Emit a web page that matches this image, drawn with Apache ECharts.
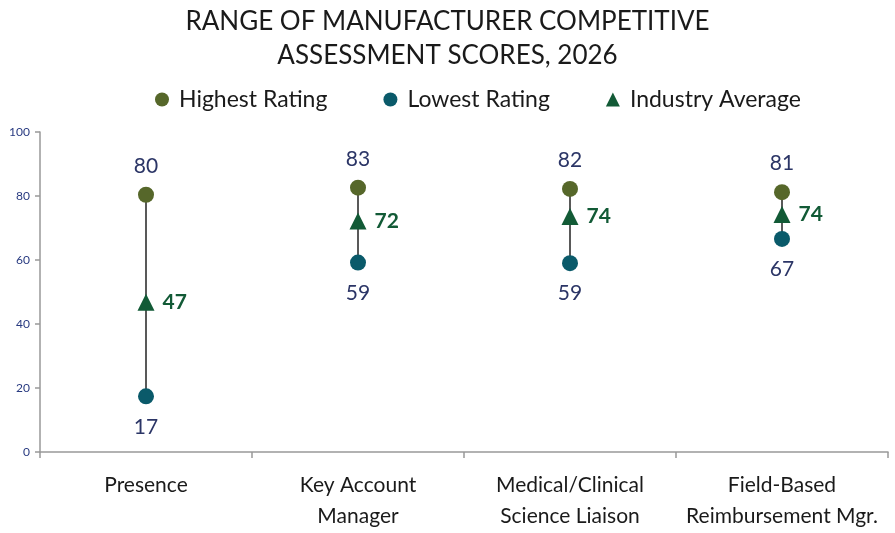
<!DOCTYPE html>
<html><head><meta charset="utf-8">
<script src="https://cdn.jsdelivr.net/npm/echarts@6/dist/echarts.min.js"></script>
<style>html,body{margin:0;padding:0;background:#fff}#c{width:895px;height:533px}</style>
</head><body><div id="c"></div>
<script>
const categories = ['Presence', 'Key Account\nManager', 'Medical/Clinical\nScience Liaison', 'Field-Based\nReimbursement Mgr.'];
const highest = [80.4, 82.6, 82.2, 81.2];
const lowest = [17.4, 59.2, 59.0, 66.6];
const average = [46.8, 72.2, 73.6, 74.2];
const yTicks = [0, 20, 40, 60, 80, 100];

const FONT = 'Lato';
const chart = echarts.init(document.getElementById('c'));
chart.setOption({
  animation: false,
  textStyle: { fontFamily: FONT },
  title: {
    text: 'RANGE OF MANUFACTURER COMPETITIVE\nASSESSMENT SCORES, 2026',
    left: 'center', top: 0,
    textStyle: { fontFamily: FONT, fontSize: 26, fontWeight: 'normal', color: '#1a1a1a', lineHeight: 34 }
  },
  legend: {
    top: 83, left: 150, itemGap: 56, itemWidth: 14, itemHeight: 14,
    textStyle: { fontFamily: FONT, fontSize: 23, color: '#1a1a1a', padding: [0, 0, 0, 5] },
    data: [
      { name: 'Highest Rating', icon: 'circle' },
      { name: 'Lowest Rating', icon: 'circle' },
      { name: 'Industry Average', icon: 'triangle' }
    ]
  },
  grid: { left: 40, right: 7, top: 132, bottom: 81 },
  xAxis: {
    type: 'category', data: categories,
    axisLine: { lineStyle: { color: '#999', width: 1.5 } },
    axisTick: { show: true, interval: 0, length: 6, lineStyle: { color: '#999', width: 1.5 } },
    axisLabel: { interval: 0, fontFamily: FONT, fontSize: 21, color: '#1a1a1a', margin: 18, lineHeight: 31 }
  },
  yAxis: {
    type: 'value', min: 0, max: 100, interval: 20,
    axisLine: { show: true, lineStyle: { color: '#999', width: 1.5 } },
    axisTick: { show: true, length: 5, lineStyle: { color: '#999', width: 1.5 } },
    splitLine: { show: false },
    axisLabel: { fontFamily: FONT, fontSize: 12, color: '#283a80', margin: 10,
      formatter: v => yTicks.includes(v) ? String(v) : '' }
  },
  series: [
    {
      type: 'custom', name: 'range', silent: true, z: 1,
      data: categories.map((c, i) => [i, lowest[i], highest[i]]),
      renderItem: (params, api) => {
        const a = api.coord([api.value(0), api.value(1)]);
        const b = api.coord([api.value(0), api.value(2)]);
        return { type: 'line', shape: { x1: a[0], y1: a[1], x2: b[0], y2: b[1] },
          style: { stroke: '#222', lineWidth: 1.5 } };
      }
    },
    {
      name: 'Highest Rating', type: 'scatter', data: highest, symbol: 'circle', symbolSize: 16, z: 3,
      itemStyle: { color: '#56672a', opacity: 1 },
      label: { show: true, position: 'top', distance: 10, fontFamily: FONT, fontSize: 21, color: '#2b3566',
        formatter: p => Math.round(p.value) }
    },
    {
      name: 'Lowest Rating', type: 'scatter', data: lowest, symbol: 'circle', symbolSize: 16, z: 3,
      itemStyle: { color: '#0a5a6a', opacity: 1 },
      label: { show: true, position: 'bottom', distance: 12, fontFamily: FONT, fontSize: 21, color: '#2b3566',
        formatter: p => Math.round(p.value) }
    },
    {
      name: 'Industry Average', type: 'scatter', data: average, symbol: 'triangle', symbolSize: 17, z: 4,
      itemStyle: { color: '#125a36', opacity: 1 },
      label: { show: true, position: 'right', distance: 8, fontFamily: FONT, fontSize: 21, fontWeight: 'bold', color: '#125a36',
        formatter: p => Math.round(p.value) }
    }
  ]
});
</script></body></html>
